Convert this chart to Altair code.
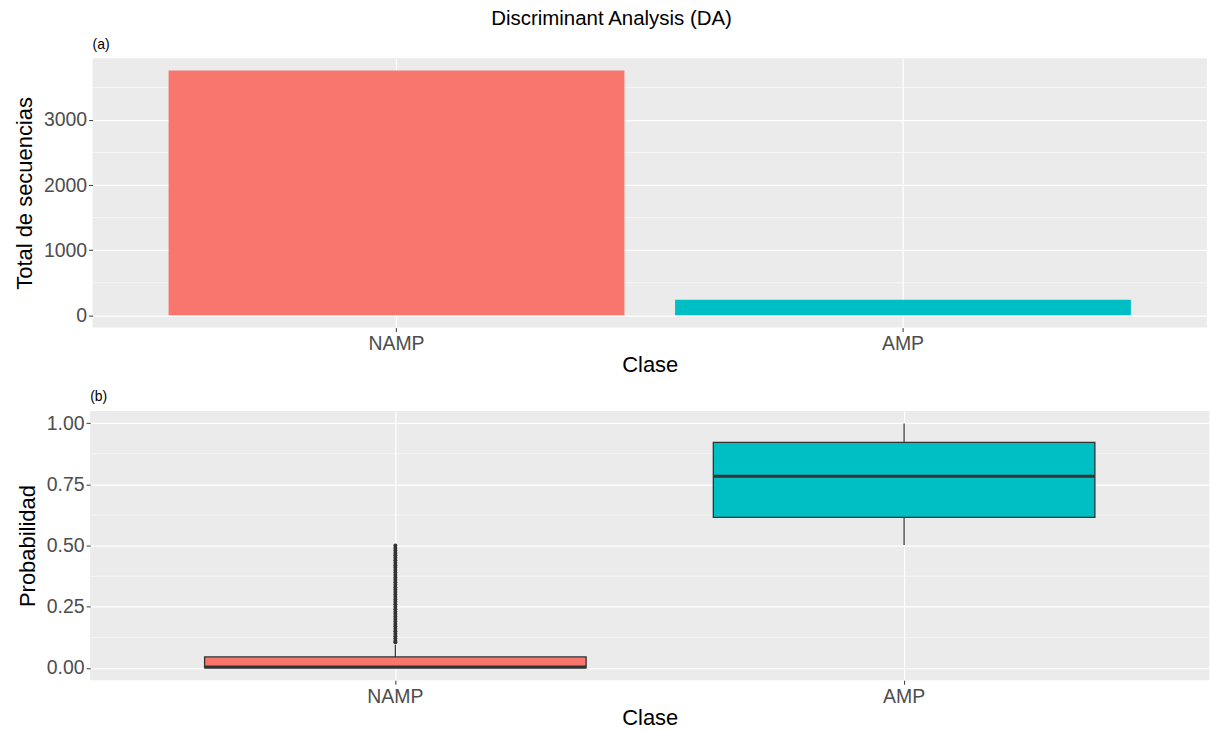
import altair as alt
import pandas as pd

# --- data -------------------------------------------------------------
clases = ["NAMP", "AMP"]
colores = ["#F8766D", "#00BFC4"]

# (a) number of sequences per class
total_secuencias = [3760, 240]

# (b) boxplot summary of the predicted probability per class
bigote_inf = [0.000, 0.502]
cuartil_1 = [0.0005, 0.615]
mediana = [0.004, 0.783]
cuartil_3 = [0.045, 0.921]
bigote_sup = [0.095, 0.998]

# outlying probabilities of the NAMP class
atipicos_namp = [0.105, 0.11, 0.12, 0.13, 0.14, 0.15, 0.16, 0.17, 0.18, 0.19,
                 0.20, 0.21, 0.22, 0.23, 0.24, 0.25, 0.26, 0.27, 0.28, 0.29,
                 0.30, 0.31, 0.32, 0.33, 0.34, 0.35, 0.36, 0.37, 0.38, 0.39,
                 0.40, 0.41, 0.42, 0.43, 0.44, 0.45, 0.46, 0.47, 0.48, 0.49,
                 0.50]

# axis breaks
ticks_a = [0, 1000, 2000, 3000]
menores_a = [500, 1500, 2500, 3500]
ticks_b = [0.0, 0.25, 0.50, 0.75, 1.00]
menores_b = [0.125, 0.375, 0.625, 0.875]

# --- tables -----------------------------------------------------------
df_a = pd.DataFrame({"Clase": clases, "valor": total_secuencias})
df_menor_a = pd.DataFrame({"valor": menores_a})

df_b = pd.DataFrame({
    "Clase": clases,
    "inf": bigote_inf,
    "q1": cuartil_1,
    "med": mediana,
    "q3": cuartil_3,
    "sup": bigote_sup,
})
df_atip = pd.DataFrame({"Clase": "NAMP", "valor": atipicos_namp})
df_menor_b = pd.DataFrame({"valor": menores_b})

FUENTE = "Liberation Sans"
GRIS_TXT = "#4D4D4D"
OSCURO = "#333333"


def eje_x():
    return alt.Axis(
        title="Clase", labelAngle=0, labelFontSize=19.5, labelColor=GRIS_TXT,
        labelPadding=3, tickSize=4, tickColor=OSCURO, tickWidth=1,
        titleFontSize=22, titleFontWeight="normal", titleColor="black",
        titlePadding=2, domain=False, grid=True, gridColor="white",
        gridWidth=1.2, bandPosition=0.5,
    )


def eje_y(titulo, valores, formato):
    return alt.Axis(
        title=titulo, values=valores, format=formato, labelFontSize=19.5,
        labelColor=GRIS_TXT, labelPadding=2, tickSize=4, tickColor=OSCURO,
        tickWidth=1, titleFontSize=22, titleFontWeight="normal",
        titleColor="black", titlePadding=7, domain=False, grid=True,
        gridColor="white", gridWidth=1.2,
    )


def rotulo(texto):
    return alt.TitleParams(texto, anchor="start", frame="group", fontSize=14,
                           fontWeight="normal", color="black", offset=6.5)


color_clase = alt.Color(
    "Clase:N", scale=alt.Scale(domain=clases, range=colores), legend=None
)

# --- panel (a): bar chart ----------------------------------------------
escala_x_a = alt.Scale(domain=clases, paddingInner=0.1, paddingOuter=0.15)
escala_y_a = alt.Scale(domain=[-188, 3948], nice=False, zero=False)
y_a = alt.Y("valor:Q", scale=escala_y_a,
            axis=eje_y("Total de secuencias", ticks_a, "d"))

menor_a = alt.Chart(df_menor_a).mark_rule(color="white", strokeWidth=0.6).encode(
    y=y_a
)
barras = alt.Chart(df_a).mark_bar().encode(
    x=alt.X("Clase:N", sort=clases, scale=escala_x_a, axis=eje_x()),
    y=y_a,
    y2=alt.datum(0),
    color=color_clase,
)
panel_a = alt.layer(menor_a, barras).properties(
    width=1117, height=270, title=rotulo("(a)"),
)

# --- panel (b): boxplot ------------------------------------------------
escala_x_b = alt.Scale(domain=clases, paddingInner=0.25, paddingOuter=0.225)
escala_y_b = alt.Scale(domain=[-0.05, 1.05], nice=False, zero=False)
x_b = alt.X("Clase:N", sort=clases, scale=escala_x_b, axis=eje_x())
eje_b = eje_y("Probabilidad", ticks_b, ".2f")

base_b = alt.Chart(df_b)
menor_b = alt.Chart(df_menor_b).mark_rule(color="white", strokeWidth=0.6).encode(
    y=alt.Y("valor:Q", scale=escala_y_b, axis=eje_b)
)
bigote_bajo = base_b.mark_rule(color=OSCURO, strokeWidth=1.2).encode(
    x=x_b, y=alt.Y("inf:Q", scale=escala_y_b, axis=eje_b), y2="q1:Q"
)
bigote_alto = base_b.mark_rule(color=OSCURO, strokeWidth=1.2).encode(
    x=x_b, y=alt.Y("q3:Q", scale=escala_y_b, axis=eje_b), y2="sup:Q"
)
caja = base_b.mark_bar(stroke=OSCURO, strokeWidth=1.3).encode(
    x=x_b, y=alt.Y("q1:Q", scale=escala_y_b, axis=eje_b), y2="q3:Q",
    color=color_clase,
)
linea_mediana = base_b.mark_bar(stroke=OSCURO, strokeWidth=3, fillOpacity=0).encode(
    x=x_b, y=alt.Y("med:Q", scale=escala_y_b, axis=eje_b), y2="med:Q"
)
puntos = alt.Chart(df_atip).mark_circle(color=OSCURO, size=16, opacity=1).encode(
    x=x_b, y=alt.Y("valor:Q", scale=escala_y_b, axis=eje_b)
)
panel_b = alt.layer(
    menor_b, bigote_bajo, bigote_alto, caja, linea_mediana, puntos
).properties(
    width=1122, height=270, title=rotulo("(b)"),
)

# centred cells keep each panel's full extent (axes included) flush left
chart = alt.vconcat(panel_a, panel_b, spacing=13.5, center=True).properties(
    title=alt.TitleParams("Discriminant Analysis (DA)", anchor="middle",
                          fontSize=20.5, fontWeight="normal", color="black",
                          offset=8),
    padding={"left": 13, "top": 8.5, "right": 0, "bottom": 0},
    background="white",
).configure(
    font=FUENTE,
).configure_view(
    fill="#EBEBEB", stroke=None,
)

chart.save("out.html", embed_options={"renderer": "svg", "actions": False})
